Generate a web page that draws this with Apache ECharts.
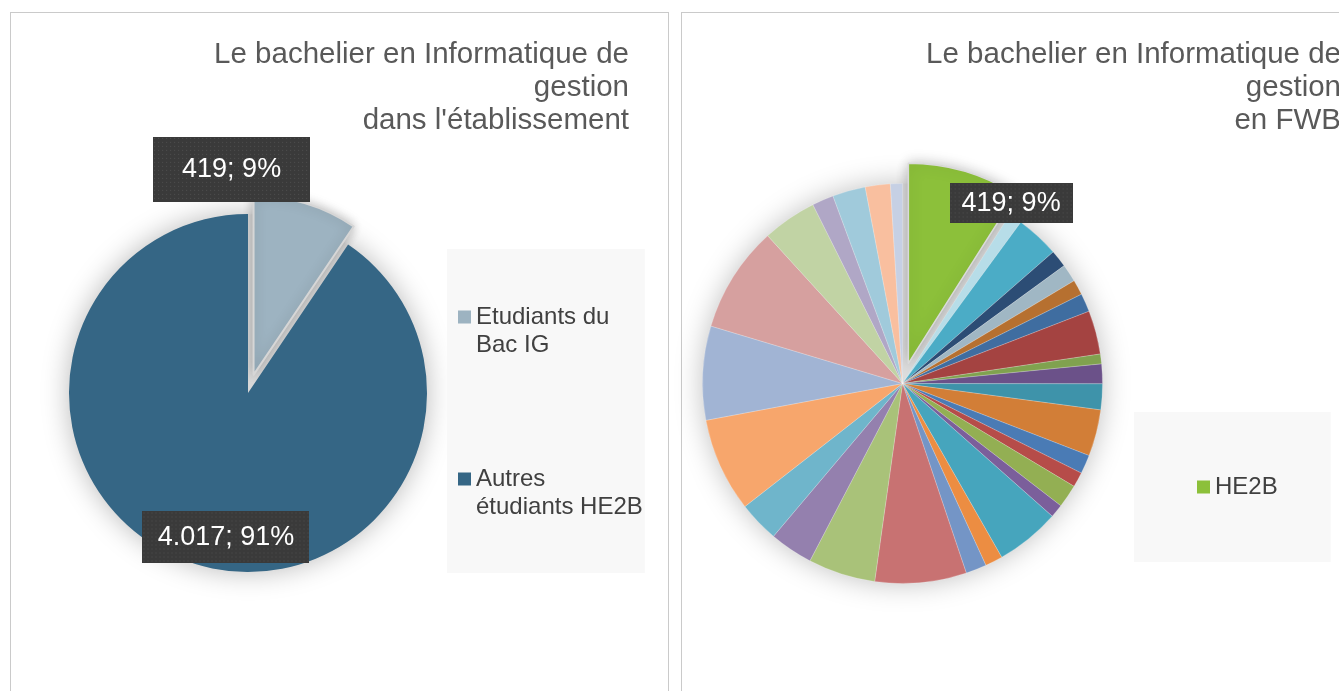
<!DOCTYPE html>
<html>
<head>
<meta charset="utf-8">
<script src="https://cdn.jsdelivr.net/npm/echarts@6/dist/echarts.min.js"></script>
<style>
  html, body { margin: 0; padding: 0; background: #fff; overflow: hidden; }
  #wrap { position: relative; width: 1339px; height: 691px; overflow: hidden; }
  .panel { position: absolute; top: 12px; height: 720px; border: 1.5px solid #cacaca; box-sizing: border-box; }
  #main { position: absolute; left: 0; top: 0; width: 1339px; height: 691px; }
</style>
</head>
<body>
<div id="wrap">
  <div class="panel" style="left:10px; width:659px;"></div>
  <div class="panel" style="left:681px; width:720px;"></div>
  <div id="main"></div>
</div>
<script>
// ---------- DATA ----------
const titleLeft = ['Le bachelier en Informatique de', 'gestion', "dans l'établissement"];
const titleRight = ['Le bachelier en Informatique de', 'gestion', 'en FWB'];

const leftNames = ['Etudiants du\nBac IG', 'Autres\nétudiants HE2B'];
const leftValues = [419, 4017];
const leftColors = ['#9db3c1', '#356685'];

const rightNames = ['HE2B',
  'Établissement 2', 'Établissement 3', 'Établissement 4', 'Établissement 5', 'Établissement 6',
  'Établissement 7', 'Établissement 8', 'Établissement 9', 'Établissement 10', 'Établissement 11',
  'Établissement 12', 'Établissement 13', 'Établissement 14', 'Établissement 15', 'Établissement 16',
  'Établissement 17', 'Établissement 18', 'Établissement 19', 'Établissement 20', 'Établissement 21',
  'Établissement 22', 'Établissement 23', 'Établissement 24', 'Établissement 25', 'Établissement 26',
  'Établissement 27', 'Établissement 28', 'Établissement 29', 'Établissement 30', 'Établissement 31'];
const rightValues = [419,
  50, 163, 65, 67, 57, 69, 164, 37, 74, 97,
  175, 71, 56, 87, 50, 242, 66, 78, 344, 253,
  163, 153, 354, 353, 400, 204, 81, 124, 94, 45];
const rightColors = ['#8cc03a',
  '#b7dde8', '#4bacc6', '#2c4d75', '#a0b7c4', '#b67030', '#3f6da0', '#a44341', '#80a24f', '#6b5189', '#3e93aa',
  '#d27e37', '#4a7bb5', '#b64c49', '#93af53', '#7b5f9b', '#46a5bd', '#ec8d42', '#7495c6', '#c87272', '#a9c279',
  '#9480ae', '#6fb5cb', '#f7a66c', '#a1b4d4', '#d6a09f', '#c1d3a4', '#b0a7c6', '#a0cadb', '#f9bf9f', '#c6d0e4'];

const highlighted = { left: 0, right: 0 };   // exploded slice index
// ---------------------------

const FONT = "'Liberation Sans', Arial, sans-serif";

function fmtNum(v) {
  return String(v).replace(/\B(?=(\d{3})+(?!\d))/g, '.');
}
function labelFmt(p) {
  return fmtNum(p.value) + '; ' + Math.round(p.percent) + '%';
}
function sum(a) { return a.reduce((s, v) => s + v, 0); }

function dottedCanvas(w, h) {
  const c = document.createElement('canvas');
  c.width = w; c.height = h;
  const g = c.getContext('2d');
  g.fillStyle = '#3a3a3a';
  g.fillRect(0, 0, w, h);
  g.fillStyle = '#505050';
  for (let y = 1; y < h; y += 4) {
    for (let x = 1; x < w; x += 4) g.fillRect(x, y, 1, 1);
  }
  return c;
}

function boxLabel(w, h) {
  return {
    show: true,
    position: 'inside',
    formatter: labelFmt,
    color: '#ffffff',
    fontSize: 27,
    fontFamily: FONT,
    width: w,
    height: h,
    lineHeight: h,
    align: 'center',
    verticalAlign: 'middle',
    padding: 0,
    backgroundColor: { image: dottedCanvas(w, h) },
    shadowColor: 'rgba(0,0,0,0.45)',
    shadowBlur: 6,
    shadowOffsetX: 3,
    shadowOffsetY: 3
  };
}

const leftLabelSizes = [[157, 65], [167, 52]];
const leftLabelShift = [[-49, -117], [5, 56]];
const rightLabelSize = [123, 40];
const rightLabelShift = [74, -61];

const leftData = leftValues.map((v, i) => ({
  name: leftNames[i],
  value: v,
  selected: i === highlighted.left,
  itemStyle: Object.assign({ color: leftColors[i] },
    i === highlighted.left ? { borderColor: '#d6d6d6', borderWidth: 2, shadowBlur: 12, shadowColor: 'rgba(0,0,0,0.25)' } : {}),
  label: boxLabel(leftLabelSizes[i][0], leftLabelSizes[i][1])
}));

const rightData = rightValues.map((v, i) => ({
  name: rightNames[i],
  value: v,
  selected: i === highlighted.right,
  itemStyle: Object.assign({ color: rightColors[i] },
    i === highlighted.right ? { borderColor: '#dadada', borderWidth: 1.5, shadowBlur: 14, shadowColor: 'rgba(0,0,0,0.25)' } : {}),
  label: i === highlighted.right ? boxLabel(rightLabelSize[0], rightLabelSize[1]) : { show: false }
}));

const legendIcon2 = 'path://M0,7.5h13v13h-13z M0,0 M0,56';

const chart = echarts.init(document.getElementById('main'), null, { renderer: 'canvas' });

const titleStyle = { fontSize: 29.5, fontWeight: 'normal', color: '#595959', fontFamily: FONT, lineHeight: 33 };

chart.setOption({
  animation: false,
  title: [
    { text: titleLeft.join('\n'), left: 629, top: 38, padding: 0, textAlign: 'right', textStyle: titleStyle },
    { text: titleRight.join('\n'), left: 1341, top: 38, padding: 0, textAlign: 'right', textStyle: titleStyle }
  ],
  legend: [
    {
      data: leftNames,
      orient: 'vertical',
      left: 447, top: 249,
      padding: [54, 2, 52, 11],
      backgroundColor: '#f8f8f8',
      itemWidth: 13, itemHeight: 56, itemGap: 106,
      icon: legendIcon2,
      selectedMode: false,
      itemStyle: { borderWidth: 0, shadowBlur: 0, shadowColor: 'rgba(0,0,0,0)' },
      textStyle: { fontSize: 24, lineHeight: 28, color: '#404040', fontFamily: FONT }
    },
    {
      data: ['HE2B'],
      orient: 'vertical',
      left: 1134, top: 412,
      padding: [63, 53, 63, 63],
      backgroundColor: '#f8f8f8',
      itemWidth: 13, itemHeight: 13,
      icon: 'rect',
      selectedMode: false,
      itemStyle: { borderWidth: 0, shadowBlur: 0, shadowColor: 'rgba(0,0,0,0)' },
      textStyle: { fontSize: 24, color: '#404040', fontFamily: FONT }
    }
  ],
  series: [
    {
      type: 'pie', z: 1, silent: true,
      center: [248, 393], radius: 179,
      data: [{ name: '_bgL', value: sum(leftValues) }],
      itemStyle: { color: '#d8d8d8', shadowBlur: 28, shadowColor: 'rgba(0,0,0,0.28)' },
      label: { show: false }, labelLine: { show: false }
    },
    {
      type: 'pie', z: 2,
      center: [248, 393], radius: 179,
      startAngle: 90, clockwise: true,
      selectedMode: 'single', selectedOffset: 19,
      avoidLabelOverlap: false,
      data: leftData,
      labelLine: { show: false },
      labelLayout: function (p) { const s = leftLabelShift[p.dataIndex]; return { dx: s[0], dy: s[1] }; },
      emphasis: { disabled: true },
      select: { itemStyle: { } }
    },
    {
      type: 'pie', z: 1, silent: true,
      center: [902.5, 383.5], radius: 200,
      data: [{ name: '_bgR', value: sum(rightValues) }],
      itemStyle: { color: '#dcdcdc', shadowBlur: 28, shadowColor: 'rgba(0,0,0,0.25)' },
      label: { show: false }, labelLine: { show: false }
    },
    {
      type: 'pie', z: 2,
      center: [902.5, 383.5], radius: 200,
      startAngle: 90, clockwise: true,
      selectedMode: 'single', selectedOffset: 21,
      avoidLabelOverlap: false,
      minShowLabelAngle: 0,
      data: rightData,
      itemStyle: { borderColor: 'rgba(255,255,255,0.35)', borderWidth: 0.6 },
      labelLine: { show: false },
      labelLayout: function (p) { return p.dataIndex === highlighted.right ? { dx: rightLabelShift[0], dy: rightLabelShift[1] } : {}; },
      emphasis: { disabled: true },
      select: { itemStyle: { } }
    }
  ]
});
</script>
</body>
</html>
